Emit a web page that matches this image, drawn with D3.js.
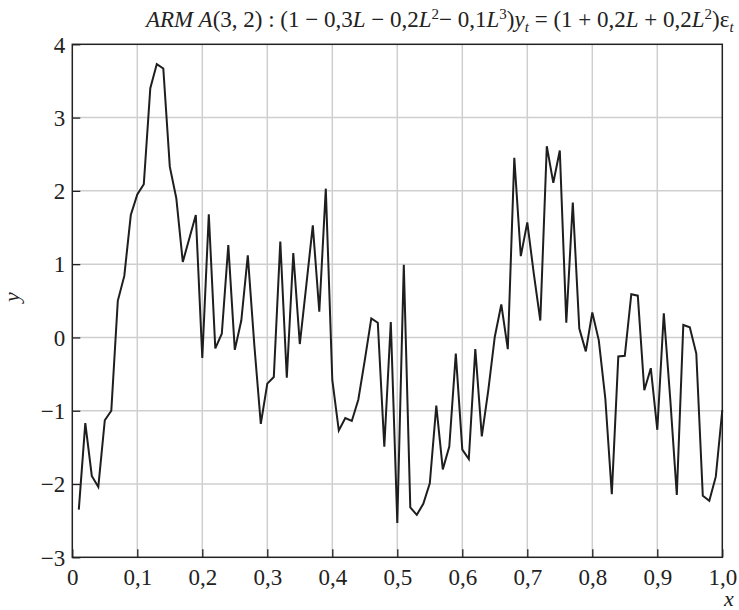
<!DOCTYPE html>
<html>
<head>
<meta charset="utf-8">
<script src="https://cdn.jsdelivr.net/npm/d3@7"></script>
<style>
  body { margin: 0; background: #fff; }
  svg { display: block; font-family: "Liberation Serif", "DejaVu Serif", serif; }
  svg text { font-family: "Liberation Serif", "DejaVu Serif", serif !important; }
  .grid line { stroke: #cfcfcf; stroke-width: 1.5; }
</style>
</head>
<body>
<svg width="739" height="610"></svg>
<script>
// data ===================================================
// one value per sample, x = 0.01 ... 1.00
var yValues = [
  -2.35, -1.17, -1.89, -2.04, -1.13, -1.00, 0.50, 0.84, 1.67, 1.95,
  2.09, 3.40, 3.73, 3.67, 2.33, 1.90, 1.03, 1.35, 1.67, -0.28,
  1.68, -0.15, 0.05, 1.26, -0.17, 0.23, 1.12, -0.10, -1.18, -0.63,
  -0.54, 1.31, -0.55, 1.15, -0.09, 0.71, 1.53, 0.35, 2.03, -0.58,
  -1.27, -1.10, -1.14, -0.85, -0.31, 0.26, 0.20, -1.49, 0.21, -2.53,
  0.99, -2.32, -2.42, -2.27, -1.99, -0.93, -1.80, -1.49, -0.22, -1.53,
  -1.66, -0.16, -1.35, -0.72, 0.01, 0.45, -0.16, 2.45, 1.11, 1.57,
  0.87, 0.23, 2.61, 2.11, 2.55, 0.20, 1.84, 0.12, -0.19, 0.34,
  -0.04, -0.83, -2.14, -0.26, -0.25, 0.59, 0.57, -0.72, -0.42, -1.26,
  0.33, -0.85, -2.15, 0.17, 0.14, -0.22, -2.16, -2.23, -1.90, -0.99
];
var xValues = yValues.map(function(d, i) { return (i + 1) / 100; });

var xTicks = [0, 0.1, 0.2, 0.3, 0.4, 0.5, 0.6, 0.7, 0.8, 0.9, 1.0];
var xTickLabels = ["0", "0,1", "0,2", "0,3", "0,4", "0,5", "0,6", "0,7", "0,8", "0,9", "1,0"];
var yTicks = [-3, -2, -1, 0, 1, 2, 3, 4];
var yTickLabels = ["\u22123", "\u22122", "\u22121", "0", "1", "2", "3", "4"];

// setup ==================================================
var svg = d3.select("svg");
var plotLeft = 72.3, plotRight = 722.3, plotTop = 44.3, plotBottom = 557.3;

var x = d3.scaleLinear().domain([0, 1]).range([plotLeft, plotRight]);
var y = d3.scaleLinear().domain([-3, 4]).range([plotBottom, plotTop]);

// grid
var grid = svg.append("g").attr("class", "grid");
grid.selectAll(".gx")
  .data(xTicks.slice(1, -1))
  .enter().append("line")
  .attr("x1", function(d) { return x(d); })
  .attr("x2", function(d) { return x(d); })
  .attr("y1", plotTop)
  .attr("y2", plotBottom);
grid.selectAll(".gy")
  .data(yTicks.slice(1, -1))
  .enter().append("line")
  .attr("x1", plotLeft)
  .attr("x2", plotRight)
  .attr("y1", function(d) { return y(d); })
  .attr("y2", function(d) { return y(d); });

// axes, ticks pointing inwards
var xAxis = d3.axisBottom(x)
  .tickValues(xTicks)
  .tickSize(-8)
  .tickFormat(function(d, i) { return xTickLabels[i]; });
var yAxis = d3.axisLeft(y)
  .tickValues(yTicks)
  .tickSize(-8)
  .tickFormat(function(d, i) { return yTickLabels[i]; });

var gx = svg.append("g")
  .attr("transform", "translate(0," + plotBottom + ")")
  .call(xAxis);
var gy = svg.append("g")
  .attr("transform", "translate(" + plotLeft + ",0)")
  .call(yAxis);

[gx, gy].forEach(function(g) {
  g.attr("font-family", null).attr("font-size", 23);
  g.select(".domain").remove();
  g.selectAll(".tick line").attr("stroke", "#222").attr("stroke-width", 1.3);
  g.selectAll(".tick text").attr("fill", "#222");
});
gx.selectAll(".tick text").attr("y", 11).attr("dy", "0.71em");
gy.selectAll(".tick text").attr("x", -7).attr("dy", "0.34em");

// frame
svg.append("rect")
  .attr("x", plotLeft)
  .attr("y", plotTop)
  .attr("width", plotRight - plotLeft)
  .attr("height", plotBottom - plotTop)
  .attr("fill", "none")
  .attr("stroke", "#222")
  .attr("stroke-width", 1.5);

// series
var line = d3.line()
  .x(function(d, i) { return x(xValues[i]); })
  .y(function(d) { return y(d); });

svg.append("path")
  .datum(yValues)
  .attr("d", line)
  .attr("fill", "none")
  .attr("stroke", "#1e1e1e")
  .attr("stroke-width", 2)
  .attr("stroke-linejoin", "miter");

// axis names
svg.append("text")
  .attr("x", 729)
  .attr("y", 606)
  .attr("text-anchor", "middle")
  .attr("font-style", "italic")
  .attr("font-size", 22)
  .attr("fill", "#222")
  .text("x");

svg.append("text")
  .attr("transform", "translate(19,297) rotate(-90)")
  .attr("text-anchor", "middle")
  .attr("font-style", "italic")
  .attr("font-size", 22)
  .attr("fill", "#222")
  .text("y");

// title
var titleParts = [
  { t: "ARM A", it: true },
  { t: "(3, 2) : (1 \u2212 0,3" },
  { t: "L", it: true },
  { t: " \u2212 0,2" },
  { t: "L", it: true },
  { t: "2", sup: true },
  { t: "\u2212 0,1" },
  { t: "L", it: true },
  { t: "3", sup: true },
  { t: ")" },
  { t: "y", it: true },
  { t: "t", it: true, sub: true },
  { t: " = (1 + 0,2" },
  { t: "L", it: true },
  { t: " + 0,2" },
  { t: "L", it: true },
  { t: "2", sup: true },
  { t: ")\u03b5" },
  { t: "t", it: true, sub: true }
];

var title = svg.append("text")
  .attr("x", 146)
  .attr("y", 27)
  .attr("font-size", 23)
  .attr("fill", "#222");

var shift = 0;
titleParts.forEach(function(p) {
  var target = p.sup ? -8 : (p.sub ? 5 : 0);
  var ts = title.append("tspan")
    .attr("dy", target - shift)
    .text(p.t);
  shift = target;
  if (p.it) ts.attr("font-style", "italic");
  if (p.sup || p.sub) ts.attr("font-size", 15);
});
</script>
</body>
</html>
